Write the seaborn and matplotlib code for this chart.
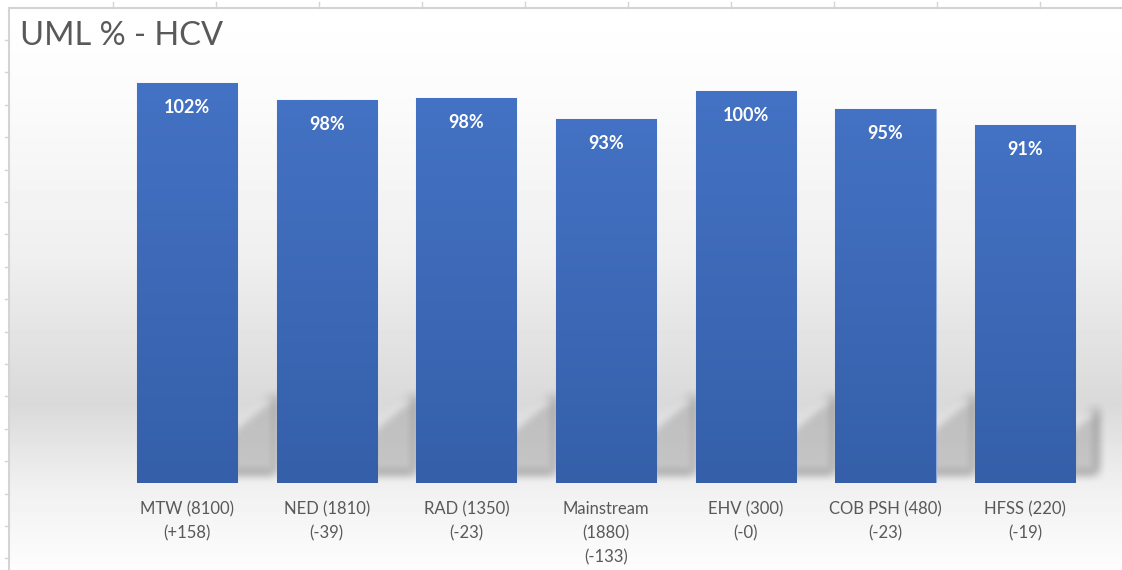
import numpy as np
import pandas as pd
import seaborn as sns
import matplotlib.pyplot as plt
from matplotlib.patches import Polygon
from matplotlib.colors import LinearSegmentedColormap

# data
groups = ["MTW (8100)\n(+158)", "NED (1810)\n(-39)", "RAD (1350)\n(-23)",
          "Mainstream\n(1880)\n(-133)", "EHV (300)\n(-0)", "COB PSH (480)\n(-23)",
          "HFSS (220)\n(-19)"]
uml_pct = [102.0, 97.7, 98.2, 92.9, 100.0, 95.4, 91.3]

W, H = 1122, 570
plt.rcParams['font.family'] = ['Lato', 'DejaVu Sans']
fig = plt.figure(figsize=(W / 100, H / 100), dpi=100)
fig.patch.set_facecolor('white')

# background gradient of the chart area
bg = fig.add_axes([9 / W, 0, 1 - 9 / W, 1 - 8 / H], zorder=-10)
stops_y = [0, 90, 250, 395, 440, 483, 562]
stops_c = [255, 251, 239, 217, 230, 241, 253]
rows = np.interp(np.arange(562), stops_y, stops_c) / 255.0
img = np.repeat(rows[:, None], 2, axis=1)
bg.imshow(img, cmap='gray', vmin=0, vmax=1, aspect='auto', extent=[0, 1, 0, 1])
bg.axis('off')

# sheet gridline bits around the chart
fig.add_artist(plt.Line2D([9 / W, 1], [1 - 8 / H] * 2, color='#d4d4d4', lw=1.5))
fig.add_artist(plt.Line2D([9 / W] * 2, [0, 1 - 8 / H], color='#d4d4d4', lw=1.5))
for px in np.arange(113, W, 103.0):
    fig.add_artist(plt.Line2D([px / W] * 2, [1 - 8 / H, 1 - 2 / H], color='#d4d4d4', lw=1))
for py in np.arange(40, H, 32.4):
    fig.add_artist(plt.Line2D([5 / W, 9 / W], [1 - py / H] * 2, color='#d4d4d4', lw=1))

ax = fig.add_axes([117 / W, 87 / H, (1097 - 117) / W, (483 - 52) / H])
ax.set_facecolor('none')

df = pd.DataFrame({"group": groups, "uml": uml_pct})
sns.barplot(data=df, x="group", y="uml", color="#4472c4", width=0.716,
            edgecolor="#8eaadb", linewidth=0.8, ax=ax, zorder=3)

ymax = 110
xl, xr = -0.501, 6.514


def blur(im, dpi, r=5):
    pad = 3 * r
    a = np.pad(im, ((pad, pad), (pad, pad), (0, 0)))
    for _ in range(2):
        for axis in (0, 1):
            acc = np.zeros_like(a)
            for s in range(-r, r + 1):
                acc += np.roll(a, s, axis=axis)
            a = acc / (2 * r + 1)
    return a, -pad, -pad


# bar gradient + soft shadow behind each bar
cmap = LinearSegmentedColormap.from_list("bar", ["#355fa9", "#4472c4"])
ypx = ymax / (483 - 52)
xpx = (xr - xl) / (1097 - 117)
for p in ax.patches:
    x0, w, h = p.get_x(), p.get_width(), p.get_height()
    grad = np.linspace(0, 1, 256)[:, None]
    im = ax.imshow(grad, cmap=cmap, origin='lower', aspect='auto',
                   extent=[x0, x0 + w, 0, h], zorder=3.5)
    im.set_clip_path(p)
    R = x0 + w
    shadow = Polygon([(R - 6 * xpx, 10 * ypx), (R - 6 * xpx, 52 * ypx), (R + 38 * xpx, 88 * ypx),
                      (R + 38 * xpx, 10 * ypx)], closed=True, facecolor='#b0b0b0',
                     edgecolor='none', alpha=0.65, zorder=2)
    shadow.set_agg_filter(blur)
    ax.add_patch(shadow)

for i, v in enumerate(uml_pct):
    ax.text(i, v - 24 * ypx, f"{round(v)}%", ha='center', va='center',
            color='white', fontweight='bold', fontsize=13, zorder=5)

ax.set_xlim(xl, xr)
ax.set_ylim(0, ymax)
ax.set_xlabel("")
ax.set_ylabel("")
ax.set_yticks([])
for s in ax.spines.values():
    s.set_visible(False)
ax.tick_params(axis='x', length=0, pad=13, labelsize=12, labelcolor='#595959')
for t in ax.get_xticklabels():
    t.set_linespacing(1.62)

fig.text(20 / W, 1 - 36 / H, "UML % - HCV", fontsize=23.5, color='#595959',
         va='center', ha='left')

fig.savefig("out.png", dpi=100)
